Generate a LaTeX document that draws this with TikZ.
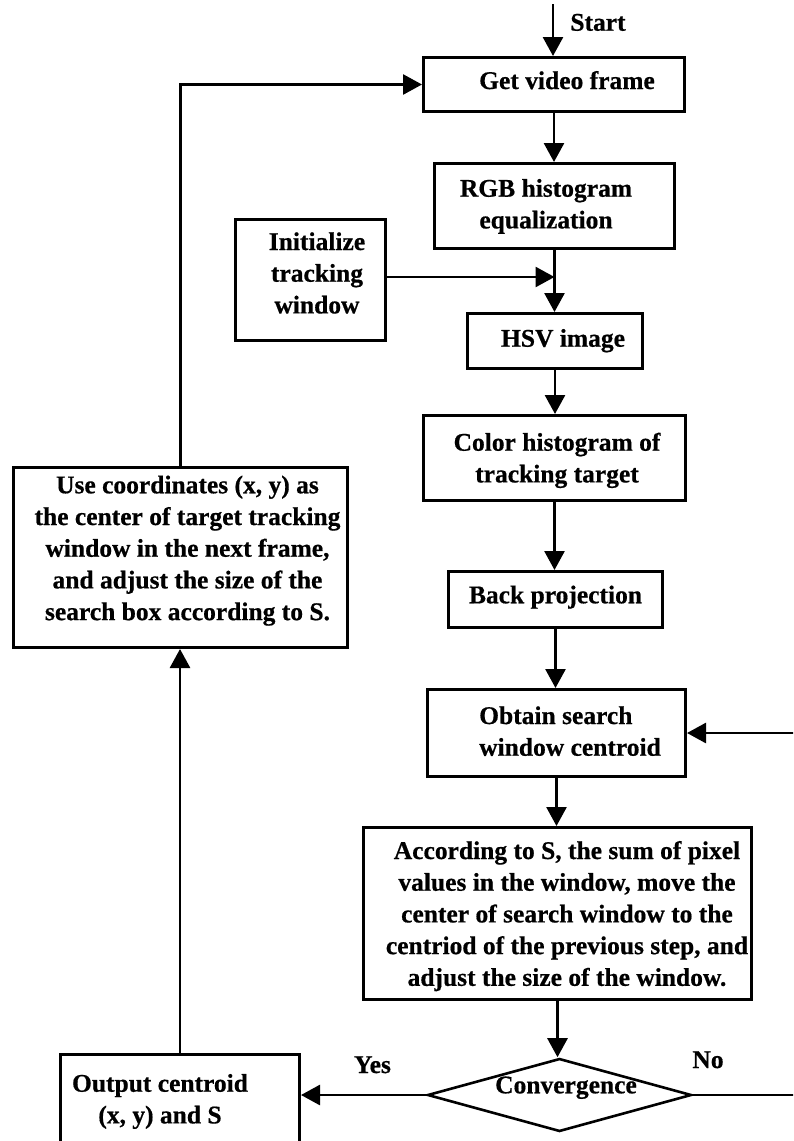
\documentclass[tikz,border=0pt]{standalone}
\usepackage{fontspec}
\setmainfont{Liberation Serif}[BoldFeatures={FakeBold=0.6}]
\usetikzlibrary{arrows.meta,shapes.geometric}

% bold serif used for every label in the chart
\newcommand{\flowfont}{\fontsize{25.5}{31.7}\selectfont\bfseries}
% stacked lines; the first line's baseline is the node's base
\newcommand{\lns}[1]{\begin{tabular}[t]{@{}c@{}}#1\end{tabular}}
\newcommand{\lnsl}[1]{\begin{tabular}[t]{@{}l@{}}#1\end{tabular}}

\begin{document}
\begin{tikzpicture}[x=1pt,y=-1pt,
  box/.style={draw, line width=2.8pt, rectangle, inner sep=0pt},
  decision/.style={draw, line width=2.6pt, diamond, inner sep=0pt, shape aspect=3.5},
  txt/.style={font=\flowfont, inner sep=0pt, anchor=base},
  flow/.style={line width=2.7pt, -{Triangle[length=19pt,width=20pt]}}]
\useasboundingbox (0,0) rectangle (793,1141);
\clip (0,0) rectangle (793,1141);

% ---- process boxes ----
\node[box, minimum width=261.2, minimum height=54.2]  (get)    at (554,84.5)   {};
\node[box, minimum width=240.2, minimum height=85.2]  (rgb)    at (554.5,206)  {};
\node[box, minimum width=150.2, minimum height=121.2] (init)   at (310.5,280)  {};
\node[box, minimum width=175.2, minimum height=55.2]  (hsv)    at (555,341)    {};
\node[box, minimum width=262.2, minimum height=85.2]  (color)  at (554.5,458)  {};
\node[box, minimum width=214.2, minimum height=56.2]  (back)   at (555.5,599.5){};
\node[box, minimum width=258.2, minimum height=87.2]  (obtain) at (556.5,733)  {};
\node[box, minimum width=388.2, minimum height=172.2] (acc)    at (557.5,913.5){};
\node[box, minimum width=334.2, minimum height=180.2] (use)    at (180.5,557.5){};
\node[box, minimum width=239.2, minimum height=125.7] (out)    at (180,1117)   {};
\node[decision, minimum width=264, minimum height=73] (dec)    at (559.5,1095) {};

% ---- box texts ----
\node[txt] (gett)    at (567,89)      {Get video frame};
\node[txt] (rgbt)    at (546,196.7)   {\lns{RGB histogram\\equalization}};
\node[txt] (initt)   at (317,250)     {\lns{Initialize\\tracking\\window}};
\node[txt] (hsvt)    at (563,346.7)   {HSV image};
\node[txt] (colort)  at (557,450.7)   {\lns{Color histogram of\\tracking target}};
\node[txt] (backt)   at (555.5,603.3) {Back projection};
\node[txt, anchor=base west] (obtaint) at (479,724) {\lnsl{Obtain search\\window centroid}};
\node[txt] (acct)    at (567,859)     {\lns{According to S, the sum of pixel\\values in the window, move the\\center of search window to the\\centriod of the previous step, and\\adjust the size of the window.}};
\node[txt] (uset)    at (187.5,493.3) {\lns{Use coordinates (x, y) as\\the center of target tracking\\window in the next frame,\\and adjust the size of the\\search box according to S.}};
\node[txt] (outt)    at (160,1091.7)  {\lns{Output centroid\\(x, y) and S}};
\node[txt] (dect)    at (566,1093.3)  {Convergence};

% ---- edge labels ----
\node[txt] (startl) at (598,30.7) {Start};
\node[txt] (yesl)   at (372.5,1073) {Yes};
\node[txt] (nol)    at (708,1068) {No};

% ---- connectors ----
\coordinate (s0) at (553,4);
\draw[flow] (s0) -- (s0 |- get.north);
\draw[flow] (get.south) -- (get.south |- rgb.north);
\draw[flow] (rgb.south) -- (rgb.south |- hsv.north);
\draw[flow] ([yshift=3pt]init.east) coordinate (ie) -- (ie -| rgb.south);
\draw[flow] (hsv.south) -- (hsv.south |- color.north);
\draw[flow] (color.south) -- (color.south |- back.north);
\draw[flow] (back.south) -- (back.south |- obtain.north);
\draw[flow] (obtain.south) -- (obtain.south |- acc.north);
\draw[flow] (acc.south) -- (acc.south |- dec.north);
\draw[flow] (dec.west) -- (dec.west -| out.east);
\draw[flow] (dec.east) -- ++(120,0) |- (obtain.east);
\draw[flow] (out.north) -- (out.north |- use.south);
\draw[flow] (use.north) |- (get.west);
\end{tikzpicture}
\end{document}
